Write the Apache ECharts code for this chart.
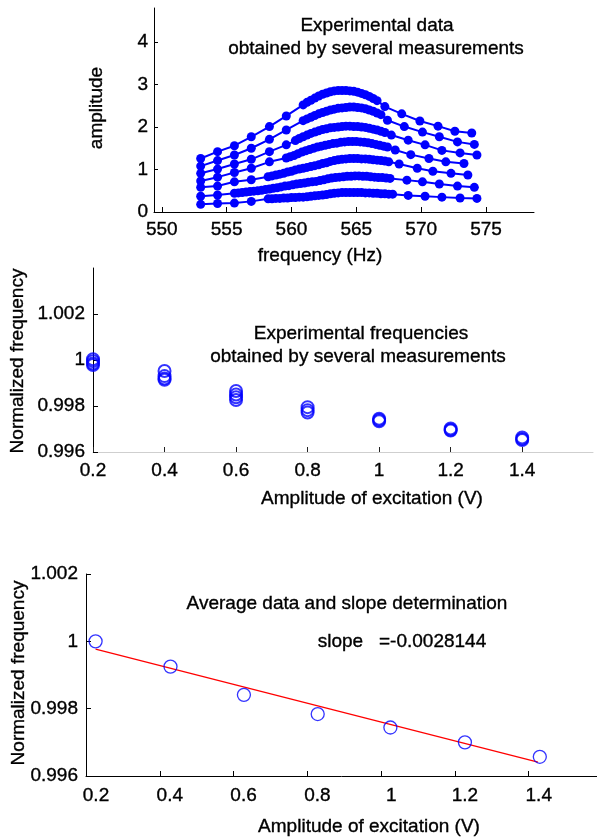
<!DOCTYPE html>
<html>
<head>
<meta charset="utf-8">
<script src="https://cdn.jsdelivr.net/npm/echarts@6/dist/echarts.min.js"></script>
<style>
  html, body { margin: 0; padding: 0; background: #fff; }
  #chart { width: 597px; height: 839px; }
</style>
</head>
<body>
<div id="chart"></div>
<script>
// ---------- Panel 1: resonance curves (frequency Hz, amplitude) ----------
const curve1 = [[553.0,0.18],[554.3,0.20],[555.6,0.21],[556.9,0.25],
  [558.2,0.31],[558.5,0.31],[558.8,0.32],[559.1,0.32],[559.4,0.33],[559.7,0.33],[560.0,0.34],[560.3,0.34],[560.6,0.35],[560.9,0.35],[561.2,0.36],[561.5,0.37],[561.8,0.38],[562.1,0.39],[562.4,0.40],[562.7,0.41],[563.0,0.43],[563.3,0.44],[563.6,0.45],[563.9,0.46],[564.2,0.46],[564.5,0.46],[564.8,0.46],[565.1,0.46],[565.4,0.46],[565.7,0.45],[566.0,0.45],[566.3,0.44],[566.6,0.44],[566.9,0.43],[567.2,0.43],[567.5,0.42],[567.8,0.42],
  [569.0,0.39],[570.3,0.37],[571.6,0.35],[573.0,0.33],[574.3,0.32]];
const curve2 = [[553.0,0.37],[554.3,0.40],
  [555.6,0.44],[555.9,0.45],[556.2,0.46],[556.5,0.47],[556.8,0.48],[557.1,0.49],[557.4,0.50],[557.7,0.51],[558.0,0.53],[558.3,0.54],[558.6,0.56],[558.9,0.57],[559.2,0.59],[559.5,0.61],[559.8,0.62],[560.1,0.64],[560.4,0.66],[560.7,0.67],[561.0,0.68],[561.3,0.70],[561.6,0.71],[561.9,0.72],[562.2,0.74],[562.5,0.76],[562.8,0.78],[563.1,0.80],[563.4,0.81],[563.7,0.82],[564.0,0.83],[564.3,0.84],[564.6,0.84],[564.9,0.85],[565.2,0.85],[565.5,0.84],[565.8,0.84],[566.1,0.83],[566.4,0.82],[566.7,0.81],[567.0,0.81],[567.3,0.80],[567.6,0.79],
  [568.9,0.75],[570.1,0.71],[571.4,0.66],[572.8,0.61],[574.1,0.58]];
const curve3 = [[553.0,0.58],[554.3,0.61],[555.6,0.71],[556.9,0.76],
  [558.2,0.83],[558.5,0.85],[558.8,0.87],[559.1,0.89],[559.4,0.91],[559.7,0.94],[560.0,0.96],[560.3,0.99],[560.6,1.01],[560.9,1.03],[561.2,1.05],[561.5,1.07],[561.8,1.09],[562.1,1.11],[562.4,1.14],[562.7,1.16],[563.0,1.19],[563.3,1.21],[563.6,1.23],[563.9,1.24],[564.2,1.25],[564.5,1.26],[564.8,1.26],[565.1,1.26],[565.4,1.25],[565.7,1.25],[566.0,1.24],[566.3,1.23],[566.6,1.22],[566.9,1.21],[567.2,1.20],[567.5,1.18],
  [568.3,1.13],[569.7,1.03],[570.9,0.96],[572.3,0.91],[573.6,0.87]];
const curve4 = [[553.0,0.73],[554.3,0.82],[555.6,0.93],[556.9,1.03],[558.3,1.18],
  [559.6,1.27],[559.9,1.30],[560.2,1.33],[560.5,1.37],[560.8,1.41],[561.1,1.44],[561.4,1.47],[561.7,1.50],[562.0,1.53],[562.3,1.55],[562.6,1.57],[562.9,1.59],[563.2,1.61],[563.5,1.62],[563.8,1.64],[564.1,1.65],[564.4,1.66],[564.7,1.66],[565.0,1.66],[565.3,1.65],[565.6,1.64],[565.9,1.63],[566.2,1.61],[566.5,1.59],[566.8,1.57],[567.1,1.55],[567.4,1.53],
  [568.0,1.46],[569.2,1.35],[570.6,1.26],[571.9,1.18],[573.3,1.14]];
const curve5 = [[553.0,0.91],[554.3,1.01],[555.6,1.13],[556.9,1.24],[558.3,1.42],[559.6,1.58],
  [560.3,1.68],[560.6,1.73],[560.9,1.77],[561.2,1.81],[561.5,1.85],[561.8,1.88],[562.1,1.91],[562.4,1.94],[562.7,1.96],[563.0,1.98],[563.3,1.99],[563.6,2.00],[563.9,2.01],[564.2,2.02],[564.5,2.02],[564.8,2.01],[565.1,2.01],[565.4,2.00],[565.7,1.99],[566.0,1.97],[566.3,1.95],[566.6,1.93],[566.9,1.90],[567.2,1.87],
  [567.7,1.81],[569.0,1.69],[570.3,1.58],[571.6,1.45],[573.0,1.39],[574.3,1.34]];
const curve6 = [[553.0,1.08],[554.3,1.21],[555.6,1.34],[556.9,1.50],[558.3,1.71],[559.6,1.93],
  [560.9,2.15],[561.2,2.19],[561.5,2.23],[561.8,2.27],[562.1,2.31],[562.4,2.34],[562.7,2.37],[563.0,2.40],[563.3,2.42],[563.6,2.44],[563.9,2.45],[564.2,2.46],[564.5,2.47],[564.8,2.47],[565.1,2.46],[565.4,2.45],[565.7,2.43],[566.0,2.40],[566.3,2.37],[566.6,2.33],[566.9,2.29],
  [567.4,2.16],[568.7,2.01],[570.1,1.88],[571.4,1.77],[572.8,1.65],[574.1,1.59]];
const curve7 = [[553.0,1.26],[554.3,1.42],[555.6,1.56],[556.9,1.77],[558.3,2.01],[559.6,2.26],[560.9,2.52],
  [561.2,2.58],[561.5,2.63],[561.8,2.68],[562.1,2.73],[562.4,2.77],[562.7,2.80],[563.0,2.83],[563.3,2.85],[563.6,2.86],[563.9,2.86],[564.2,2.86],[564.5,2.85],[564.8,2.84],[565.1,2.82],[565.4,2.79],[565.7,2.76],[566.0,2.72],[566.3,2.67],[566.6,2.62],
  [567.2,2.48],[568.5,2.31],[569.9,2.14],[571.3,2.02],[572.6,1.90],[573.9,1.86]];
const freqTicks = [550, 555, 560, 565, 570, 575];
const ampTicks = [0, 1, 2, 3, 4];

// ---------- Panel 2: measured normalized frequencies ----------
const excitation = [0.2, 0.4, 0.6, 0.8, 1.0, 1.2, 1.4];
const measured = [
  [1.00003, 0.99995, 0.99985, 0.99978],
  [0.99952, 0.99930, 0.99920, 0.99914],
  [0.99865, 0.99850, 0.99838, 0.99826],
  [0.99795, 0.99782, 0.99772],
  [0.99745, 0.99739, 0.99734],
  [0.99702, 0.99697, 0.99693],
  [0.99663, 0.99657, 0.99652]
];
const excTicks = [0.2, 0.4, 0.6, 0.8, 1.0, 1.2, 1.4];
const normTicks = [0.996, 0.998, 1.0, 1.002];

// ---------- Panel 3: averages and linear fit ----------
const avgX = [0.226, 0.429, 0.628, 0.828, 1.025, 1.227, 1.430];
const avgY = [1.00000, 0.99925, 0.99841, 0.99784, 0.99744, 0.99700, 0.99657];
const fitX = [0.226, 1.425];
const fitY = [0.99977, 0.99641];
const slopeText = 'slope   =-0.0028144';

// ---------- build ----------
const FONT = '"Liberation Sans", Arial, Helvetica, sans-serif';
const FS = 19;
const BLUE = '#0000ff';
const fmt = v => String(+Number(v).toFixed(4));
const labelStyle = (margin, extra) => Object.assign({
  color: '#000', fontSize: FS, fontFamily: FONT, margin: margin, formatter: fmt,
  textBorderColor: '#000', textBorderWidth: 0.35
}, extra || {});

function valAxis(o) {
  return Object.assign({
    type: 'value',
    splitLine: { show: false },
    axisLine: { show: true, onZero: false, lineStyle: { color: '#000', width: 1 } }
  }, o);
}

const grids = [
  { left: 154, top: 8, width: 380, height: 204, outerBoundsMode: 'none', containLabel: false },
  { left: 93, top: 268, width: 500, height: 184, outerBoundsMode: 'none', containLabel: false },
  { left: 86, top: 574, width: 511, height: 202, outerBoundsMode: 'none', containLabel: false }
];

const xAxes = [
  valAxis({ gridIndex: 0, min: 549.4, max: 578.7,
    axisTick: { show: true, inside: true, length: 5, customValues: freqTicks, lineStyle: { color: '#000' } },
    axisLabel: labelStyle(8, { customValues: freqTicks }) }),
  valAxis({ gridIndex: 1, min: 0.2, max: 1.598,
    axisLine: { show: true, onZero: false, lineStyle: { color: '#cfcfcf', width: 1 } },
    axisTick: { show: true, inside: true, length: 5, customValues: excTicks, lineStyle: { color: '#222' } },
    axisLabel: labelStyle(9, { customValues: excTicks }) }),
  valAxis({ gridIndex: 2, min: 0.2, max: 1.585,
    axisTick: { show: true, inside: true, length: 5, customValues: excTicks, lineStyle: { color: '#000' } },
    axisLabel: labelStyle(10, { customValues: excTicks, padding: [0, 0, 0, 20] }) })
];

const yAxes = [
  valAxis({ gridIndex: 0, min: 0, max: 4.8,
    axisTick: { show: true, inside: true, length: 4, customValues: ampTicks, lineStyle: { color: '#000' } },
    axisLabel: labelStyle(6, { customValues: ampTicks }) }),
  valAxis({ gridIndex: 1, min: 0.996, max: 1.004,
    axisTick: { show: true, inside: true, length: 5, customValues: normTicks, lineStyle: { color: '#000' } },
    axisLabel: labelStyle(8, { customValues: normTicks }) }),
  valAxis({ gridIndex: 2, min: 0.996, max: 1.002,
    axisTick: { show: true, inside: true, length: 5, customValues: normTicks, lineStyle: { color: '#000' } },
    axisLabel: labelStyle(8, { customValues: normTicks }) })
];

const series = [];
[curve1, curve2, curve3, curve4, curve5, curve6, curve7].forEach(c => {
  series.push({
    type: 'line', xAxisIndex: 0, yAxisIndex: 0, data: c,
    symbol: 'circle', symbolSize: 9, showAllSymbol: true,
    lineStyle: { color: BLUE, width: 2 }, itemStyle: { color: BLUE },
    emphasis: { disabled: true }, silent: true
  });
});
const scatterData = [];
excitation.forEach((x, i) => measured[i].forEach(y => scatterData.push([x, y])));
series.push({
  type: 'scatter', xAxisIndex: 1, yAxisIndex: 1, data: scatterData,
  symbol: 'circle', symbolSize: 12,
  itemStyle: { color: 'rgba(0,0,0,0)', borderColor: BLUE, borderWidth: 2 }, silent: true
});
series.push({
  type: 'line', xAxisIndex: 2, yAxisIndex: 2, data: fitX.map((x, i) => [x, fitY[i]]),
  symbol: 'none', lineStyle: { color: '#ff0000', width: 1.3 }, silent: true, z: 2
});
series.push({
  type: 'scatter', xAxisIndex: 2, yAxisIndex: 2, data: avgX.map((x, i) => [x, avgY[i]]),
  symbol: 'circle', symbolSize: 13,
  itemStyle: { color: 'rgba(0,0,0,0)', borderColor: BLUE, borderWidth: 1.3 }, silent: true, z: 3
});

function txt(text, x, y, rot) {
  return {
    type: 'text', x: x, y: y, rotation: rot || 0, silent: true,
    style: { text: text, fill: '#000', font: FS + 'px ' + FONT,
      stroke: '#000', lineWidth: 0.35,
      textAlign: 'center', textVerticalAlign: 'middle', align: 'center', verticalAlign: 'middle' }
  };
}

const graphics = [
  txt('Experimental data', 377, 26),
  txt('obtained by several measurements', 376, 49),
  txt('amplitude', 97, 108, Math.PI / 2),
  txt('frequency (Hz)', 320, 256),
  txt('Experimental frequencies', 361, 334),
  txt('obtained by several measurements', 358, 357),
  txt('Normalized frequency', 18, 361, Math.PI / 2),
  txt('Amplitude of excitation (V)', 372, 499),
  txt('Average data and slope determination', 347, 604),
  txt(slopeText, 402, 642),
  txt('Normalized frequency', 19, 673, Math.PI / 2),
  txt('Amplitude of excitation (V)', 369, 827)
];

const chart = echarts.init(document.getElementById('chart'), null, { renderer: 'canvas' });
chart.setOption({
  animation: false,
  backgroundColor: '#fff',
  grid: grids,
  xAxis: xAxes,
  yAxis: yAxes,
  series: series,
  graphic: graphics
});
</script>
</body>
</html>
